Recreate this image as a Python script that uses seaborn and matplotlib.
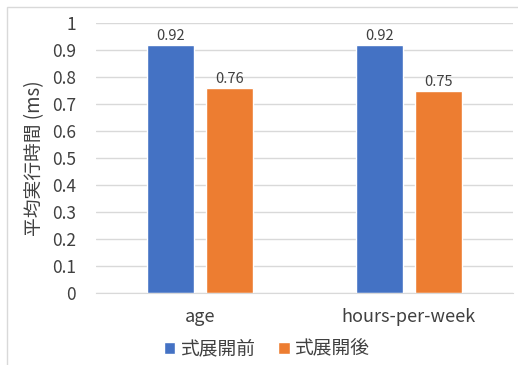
import pandas as pd
import seaborn as sns
import matplotlib.pyplot as plt
from matplotlib.patches import Rectangle

categories = ['age', 'hours-per-week']
series = ['式展開前', '式展開後']
before = [0.92, 0.92]
after = [0.76, 0.75]
yticks = [0, 0.1, 0.2, 0.3, 0.4, 0.5, 0.6, 0.7, 0.8, 0.9, 1]
ytick_labels = ['0', '0.1', '0.2', '0.3', '0.4', '0.5', '0.6', '0.7', '0.8', '0.9', '1']
colors = ['#4472C4', '#ED7D31']

df = pd.DataFrame({
    'feature': categories * 2,
    'series': [series[0]] * len(categories) + [series[1]] * len(categories),
    'time': before + after,
})

sns.set_style('white')
plt.rcParams['font.family'] = ['Noto Sans CJK JP', 'DejaVu Sans']
text_color = '#404040'

fig = plt.figure(figsize=(5.18, 3.65), dpi=100)
ax = fig.add_axes([0.1853, 0.197, 0.805, 0.740])

sns.barplot(data=df, x='feature', y='time', hue='series', palette=colors,
            width=0.566, gap=0.2, saturation=1, ax=ax, legend=True)

for c in ax.containers:
    ax.bar_label(c, fmt='%g', padding=1, fontsize=10.5, color=text_color)

ax.set_ylim(0, 1)
ax.set_yticks(yticks)
ax.set_yticklabels(ytick_labels)
ax.yaxis.grid(True, color='#D9D9D9', linewidth=1)
ax.set_axisbelow(True)
for s in ['top', 'right', 'left']:
    ax.spines[s].set_visible(False)
ax.spines['bottom'].set_color('#D9D9D9')
ax.tick_params(axis='y', length=0, labelsize=12.5, colors=text_color, pad=14.5)
ax.tick_params(axis='x', length=0, labelsize=13, colors=text_color, pad=11)
ax.set_xlabel('')
ax.set_ylabel('平均実行時間 (ms)', fontsize=13.5, color=text_color, labelpad=5)

ax.legend(loc='center', bbox_to_anchor=(267 / 518, 1 - 349 / 365),
          bbox_transform=fig.transFigure, ncol=2, frameon=False,
          fontsize=13.5, handlelength=0.6, handleheight=0.6, handletextpad=0.3,
          columnspacing=1.2, labelcolor=text_color)

fig.patches.append(Rectangle((7 / 518, -0.1), 1.2, 1 - 7 / 365 + 0.1,
                             transform=fig.transFigure, fill=False,
                             edgecolor='#D9D9D9', linewidth=1))

fig.savefig('out.png', dpi=100)
